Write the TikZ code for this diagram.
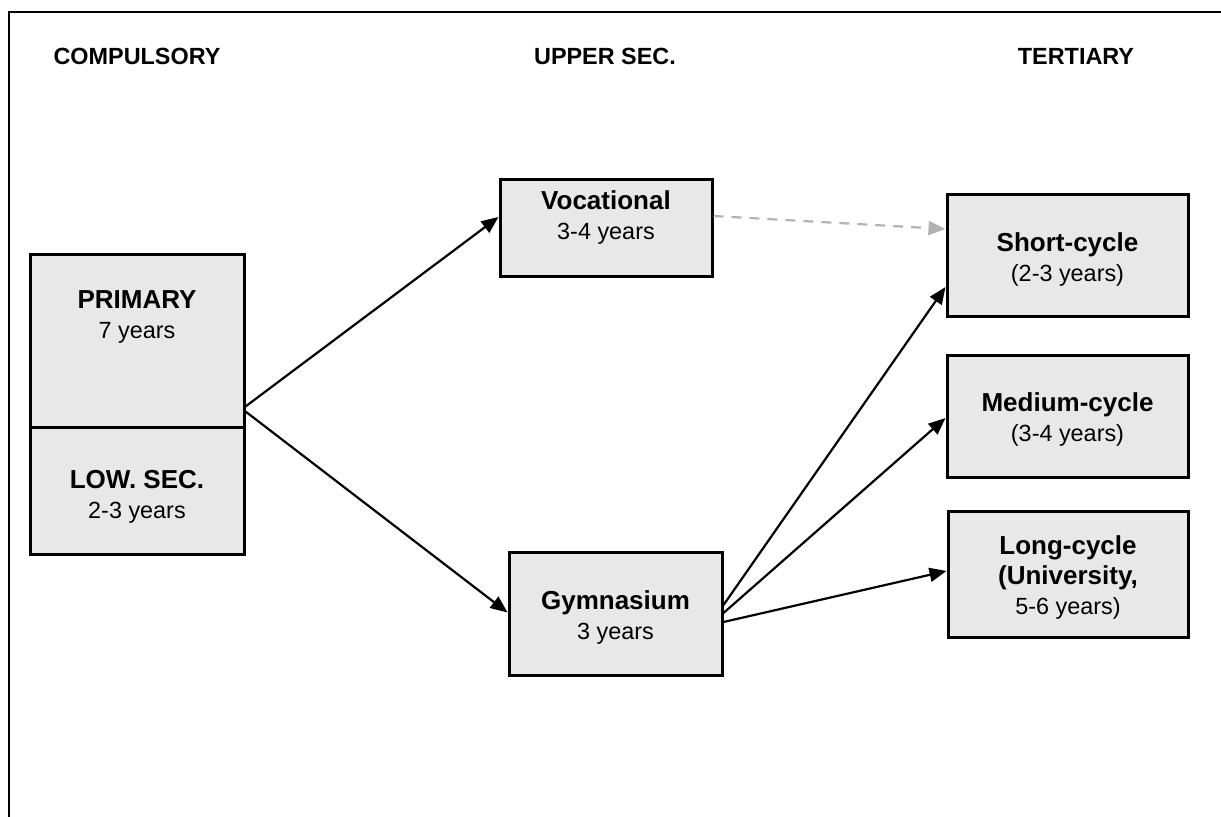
\documentclass[tikz,border=0pt]{standalone}
\usepackage{fontspec}
\setmainfont{Liberation Sans}
\usetikzlibrary{arrows.meta}
\definecolor{boxfill}{RGB}{232,232,232}
\definecolor{dashgray}{RGB}{178,178,178}
\tikzset{
  box/.style={draw=black, line width=1.5pt, fill=boxfill, inner sep=0pt},
  lbl/.style={align=center, inner sep=0pt, font=\fontsize{11.7}{15}\selectfont},
  hdr/.style={inner sep=0pt, font=\fontsize{11.7}{14}\selectfont\bfseries},
  conn/.style={line width=1.1pt, -{Triangle[length=8.5pt,width=7pt]}},
  dconn/.style={line width=1.1pt, dashgray, dash pattern=on 5pt off 4pt, -{Triangle[length=8.5pt,width=7pt]}},
}
\newcommand{\bt}[1]{{\fontsize{13}{15}\selectfont\bfseries #1}}
\begin{document}
\begin{tikzpicture}[x=0.5pt,y=-0.5pt]
\useasboundingbox (0,0) rectangle (1221,817);
\draw[line width=1pt] (9,817) -- (9,12) -- (1221,12);
% headers
\node[hdr] (h1) at (137,56) {COMPULSORY};
\node[hdr] (h2) at (605,56) {UPPER SEC.};
\node[hdr] (h3) at (1076,56) {TERTIARY};
% boxes
\node[box, minimum width=107pt, minimum height=86.5pt] (primary) at (137,341.5) {};
\node[lbl] (primaryt) at (137,316.5) {\bt{PRIMARY}\\7 years};
\node[box, minimum width=107pt, minimum height=63.5pt] (lowsec) at (137,491.5) {};
\node[lbl] (lowsect) at (137,496.5) {\bt{LOW. SEC.}\\2-3 years};
\node[box, minimum width=106pt, minimum height=48.5pt] (voc) at (606,228.5) {};
\node[lbl] (voct) at (606,218) {\bt{Vocational}\\3-4 years};
\node[box, minimum width=106.5pt, minimum height=61.5pt] (gym) at (615.5,614.5) {};
\node[lbl] (gymt) at (615.5,617.5) {\bt{Gymnasium}\\3 years};
\node[box, minimum width=120.5pt, minimum height=61pt] (short) at (1067.5,256) {};
\node[lbl] (shortt) at (1067.5,259.5) {\bt{Short-cycle}\\(2-3 years)};
\node[box, minimum width=120.5pt, minimum height=61pt] (medium) at (1067.5,417) {};
\node[lbl] (mediumt) at (1067.5,419.5) {\bt{Medium-cycle}\\(3-4 years)};
\node[box, minimum width=120pt, minimum height=63pt] (long) at (1068,575) {};
\node[lbl] (longt) at (1068,577.5) {\bt{Long-cycle}\\\bt{(University,}\\5-6 years)};
% connectors
\draw[conn] ([yshift=11.5pt]primary.south east) -- ([yshift=5.75pt]voc.west);
\draw[conn] ([yshift=9pt]primary.south east) -- ([yshift=1pt]gym.west);
\draw[conn] ([yshift=4.75pt]gym.east) -- ([yshift=-15.5pt]short.west);
\draw[conn] ([yshift=0.75pt]gym.east) -- ([yshift=-0.5pt]medium.west);
\draw[conn] ([yshift=-3.75pt]gym.east) -- ([yshift=2pt]long.west);
\draw[dconn] ([yshift=6.25pt]voc.east) -- ([yshift=13.5pt]short.west);
\end{tikzpicture}
\end{document}
